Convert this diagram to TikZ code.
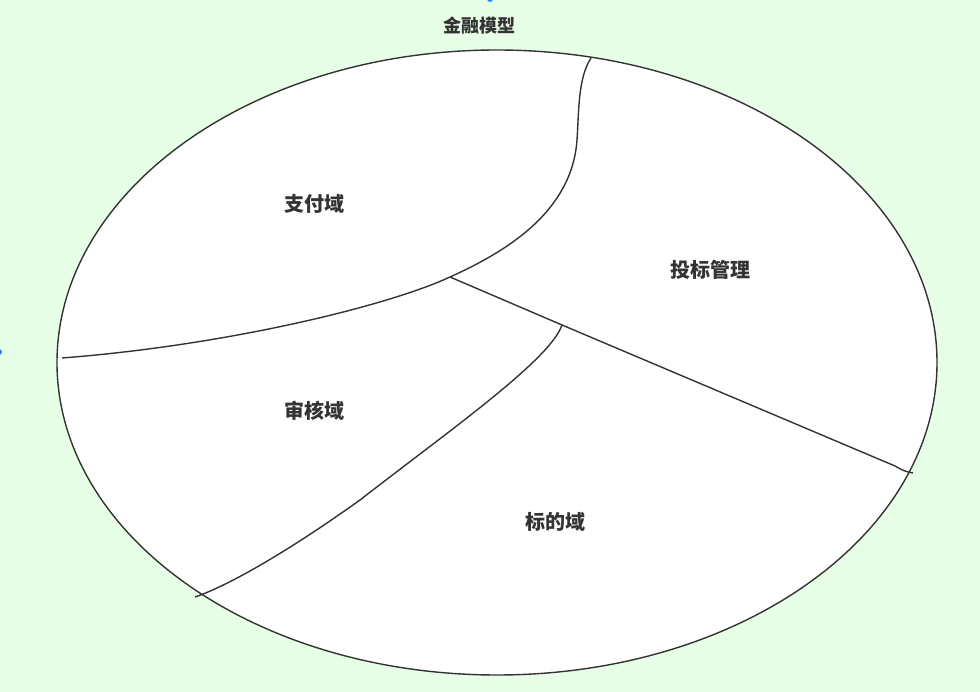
\documentclass[tikz,border=0pt]{standalone}
\usepackage{fontspec}
\newfontfamily\cjk{Noto Sans CJK SC}
\usepackage{xcolor}
\definecolor{bggreen}{HTML}{E6FFE6}
\definecolor{ink}{HTML}{333333}
\definecolor{handle}{HTML}{1A8CFF}
\tikzset{
  part/.style={draw=ink,line width=1.4pt},
  arealabel/.style={font=\cjk\bfseries\fontsize{20}{24}\selectfont,text=ink},
  modellabel/.style={font=\cjk\bfseries\fontsize{18}{22}\selectfont,text=ink}
}

\begin{document}
\begin{tikzpicture}[x=1pt,y=-1pt]
        % background
        \fill[bggreen] (0,0) rectangle (980,692);
        \useasboundingbox (0,0) rectangle (980,692);
        \foreach \h in {(490,-1),(-1,352)} \fill[handle] \h circle (3pt);
        \filldraw[part,fill=white] (497,362.5) ellipse (440pt and 312.5pt);
        \coordinate (hub) at (450,277);
        \coordinate (fork) at (562,325);
        % upper split
        \draw[part] (591,58) ..controls (578,78) and (579,110) .. (577,140)
                    ..controls (572,210) and (510,250) .. (hub)
                    ..controls (390,305) and (230,345) .. (62,358);
        % right split
        \draw[part] (hub) -- (fork) -- (895,466)
                    ..controls (902,470) and (906,472) .. (913,473);
        % lower split
        \draw[part] (fork) ..controls (550,360) and (450,430) .. (360,500)
                    ..controls (290,550) and (230,585) .. (195,597);
        \node[modellabel] (model)  at (479,26)  {金融模型};
        \node[arealabel]  (pay)    at (314,204) {支付域};
        \node[arealabel]  (bid)    at (710,270) {投标管理};
        \node[arealabel]  (audit)  at (314,411) {审核域};
        \node[arealabel]  (target) at (555,522) {标的域};
\end{tikzpicture}
\end{document}
